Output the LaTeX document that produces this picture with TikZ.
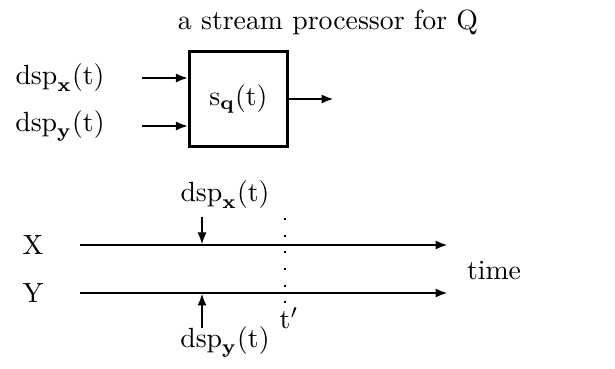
\documentclass[tikz,border=0pt]{standalone}
\usepackage{amsmath}
\usetikzlibrary{arrows.meta,positioning}

\begin{document}
\begin{tikzpicture}[
    x=0.36pt, y=-0.36pt,
    proc/.style={draw, line width=1.1pt, minimum width=35pt, minimum height=34.5pt, inner sep=0pt},
    sig/.style={inner sep=1pt},
    arrow/.style={-{Latex[length=4.5pt,width=3.3pt]}, line width=0.9pt},
    marker/.style={line width=0.7pt, dash pattern=on 0.7pt off 5.3pt}
  ]
    \useasboundingbox (0,0) rectangle (615,369);

    % the processor box
    \node (title) at (328,22) {a stream processor for $\mathrm{Q}$};
    \node[proc] (proc) at (238.5,99) {$\mathrm{s}_{\mathbf{q}}(\mathrm{t})$};
    \node[sig] (inx) at (60,78) {$\mathrm{dsp}_{\mathbf{x}}(\mathrm{t})$};
    \node[sig] (iny) at (60,126) {$\mathrm{dsp}_{\mathbf{y}}(\mathrm{t})$};
    \coordinate (inxstart) at (142,78);
    \coordinate (inystart) at (142,126);
    \coordinate (out) at (334,99);

    \draw[arrow] (inxstart) -- (inxstart -| proc.west);
    \draw[arrow] (inystart) -- (inystart -| proc.west);
    \draw[arrow] (proc.east) -- (out);

    % the two streams
    \node (X) at (33,245) {X};
    \node (Y) at (33,293) {Y};
    \node (time) at (494,271) {time};
    \coordinate (xstart) at (80,245);
    \coordinate (xend) at (448,245);
    \coordinate (ystart) at (80,293);
    \coordinate (yend) at (448,293);
    \draw[arrow] (xstart) -- (xend);
    \draw[arrow] (ystart) -- (yend);

    % events on the streams
    \node[sig] (evx) at (225,195) {$\mathrm{dsp}_{\mathbf{x}}(\mathrm{t})$};
    \node[sig] (evy) at (225,342) {$\mathrm{dsp}_{\mathbf{y}}(\mathrm{t})$};
    \coordinate (evxtop) at (202,217);
    \coordinate (evxhit) at (202,245);
    \coordinate (evybot) at (202,328);
    \coordinate (evyhit) at (202,293);
    \draw[arrow] (evxtop) -- (evxhit);
    \draw[arrow] (evybot) -- (evyhit);

    % the instant t'
    \coordinate (ttop) at (285,218);
    \coordinate (tbot) at (285,308);
    \draw[marker] (ttop) -- (tbot);
    \node (tprime) at (289,318) {$\mathrm{t}'$};
  \end{tikzpicture}
\end{document}
